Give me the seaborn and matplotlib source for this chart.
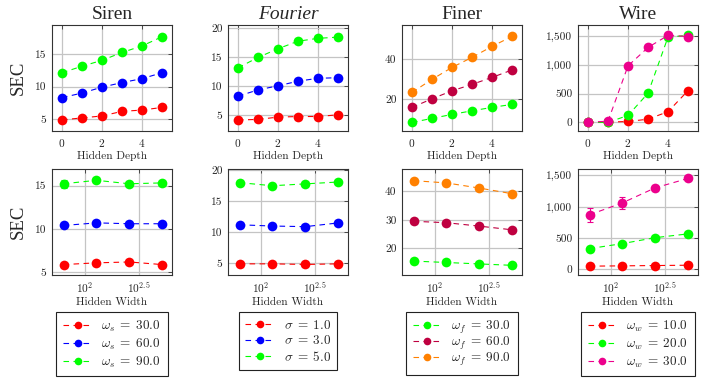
# ====================
# IMPORTING LIBRARIES
# ====================

import pandas as pd
import numpy as np

import matplotlib
matplotlib.use("Agg")
import matplotlib.pyplot as plt
from matplotlib.lines import Line2D
from matplotlib.ticker import FuncFormatter, FixedLocator, NullLocator
import seaborn as sns

# ====================
#  DATA
# ====================

depths = [0, 1, 2, 3, 4, 5]
widths = [64, 128, 256, 512]

titles = ['Siren', 'Fourier', 'Finer', 'Wire']

siren_labels = [r'$\omega_s\;=\;30.0$', r'$\omega_s\;=\;60.0$', r'$\omega_s\;=\;90.0$']
fourier_labels = [r'$\sigma\;=\;1.0$', r'$\sigma\;=\;3.0$', r'$\sigma\;=\;5.0$']
finer_labels = [r'$\omega_f\;=\;30.0$', r'$\omega_f\;=\;60.0$', r'$\omega_f\;=\;90.0$']
wire_labels = [r'$\omega_w\;=\;10.0$', r'$\omega_w\;=\;20.0$', r'$\omega_w\;=\;30.0$']

siren_colors = ['#ff0000', '#0000ff', '#00ff00']
fourier_colors = ['#ff0000', '#0000ff', '#00ff00']
finer_colors = ['#00ff00', '#bf0040', '#ff8000']
wire_colors = ['#ff0000', '#00ff00', '#ec008c']

# hidden depth sweep
siren_depth = [[4.9, 5.2, 5.5, 6.2, 6.4, 6.8],
               [8.3, 9.0, 9.9, 10.6, 11.2, 12.1],
               [12.1, 13.1, 14.0, 15.2, 16.2, 17.6]]
siren_depth_err = [[0.1] * 6, [0.1] * 6, [0.1, 0.1, 0.15, 0.15, 0.15, 0.15]]

fourier_depth = [[4.2, 4.3, 4.7, 4.8, 4.8, 5.1],
                 [8.3, 9.4, 10.1, 10.9, 11.4, 11.5],
                 [13.2, 15.0, 16.5, 17.8, 18.3, 18.5]]
fourier_depth_err = [[0.1] * 6, [0.1] * 6, [0.1, 0.1, 0.15, 0.3, 0.4, 0.2]]

finer_depth = [[8.5, 10.5, 12.5, 14.3, 16.0, 17.5],
               [16.0, 20.3, 24.3, 27.5, 31.0, 34.7],
               [23.5, 30.0, 36.0, 41.0, 46.5, 51.5]]
finer_depth_err = [[0.3] * 6, [0.3] * 6, [0.3] * 6]

wire_depth = [[0, 5, 15, 55, 185, 550],
              [0, 0, 120, 505, 1480, 1510],
              [0, 20, 980, 1300, 1510, 1490]]
wire_depth_err = [[5, 5, 10, 10, 15, 20], [5, 5, 15, 20, 20, 20], [5, 10, 20, 40, 30, 30]]

# hidden width sweep
siren_width = [[5.9, 6.1, 6.2, 5.9],
               [10.4, 10.7, 10.6, 10.6],
               [15.2, 15.6, 15.2, 15.3]]
siren_width_err = [[0.1, 0.15, 0.15, 0.1], [0.2, 0.15, 0.1, 0.1], [0.45, 0.15, 0.1, 0.1]]

fourier_width = [[4.9, 4.9, 4.8, 4.9],
                 [11.2, 11.0, 10.9, 11.5],
                 [18.0, 17.5, 17.8, 18.1]]
fourier_width_err = [[0.1, 0.1, 0.1, 0.1], [0.2, 0.15, 0.1, 0.1], [0.35, 0.4, 0.3, 0.2]]

finer_width = [[15.5, 15.0, 14.5, 14.0],
               [29.5, 29.0, 27.8, 26.5],
               [43.8, 43.0, 41.2, 39.2]]
finer_width_err = [[0.3] * 4, [0.3] * 4, [0.4] * 4]

wire_width = [[50, 55, 60, 65],
              [330, 410, 505, 565],
              [870, 1060, 1300, 1450]]
wire_width_err = [[10, 10, 10, 10], [20, 20, 15, 15], [110, 100, 50, 25]]

# axis ranges / ticks per panel
depth_ylims = [(3.2, 19.4), (2.3, 20.6), (4.2, 57.2), (-150, 1690)]
depth_yticks = [[5, 10, 15], [5, 10, 15, 20], [20, 40], [0, 500, 1000, 1500]]
width_ylims = [(4.7, 16.9), (3.1, 20.2), (10.6, 47.9), (-91, 1600)]
width_yticks = [[5, 10, 15], [5, 10, 15, 20], [20, 30, 40], [0, 500, 1000, 1500]]

# ====================
#  STYLE
# ====================

sns.set_style('white')
plt.rcParams['font.family'] = ['cmr10', 'DejaVu Serif']
plt.rcParams['mathtext.fontset'] = 'cm'
plt.rcParams['axes.formatter.use_mathtext'] = True

DASH = (0, (5, 4))
GRID_C = '#c4c4c4'
SPINE_C = '#333333'


def to_frame(xs, ys, labels):
    rows = []
    for lab, yv in zip(labels, ys):
        for x, y in zip(xs, yv):
            rows.append({'x': x, 'y': y, 'label': lab})
    return pd.DataFrame(rows)


def draw_panel(ax, xs, ys, errs, labels, colors):
    df = to_frame(xs, ys, labels)
    sns.lineplot(data=df, x='x', y='y', hue='label', hue_order=labels,
                 palette=colors, marker='o', markersize=7, markeredgewidth=0,
                 linestyle=DASH, linewidth=0.8, errorbar=None, legend=False,
                 ax=ax, zorder=3)
    for yv, ev, c in zip(ys, errs, colors):
        ax.errorbar(xs, yv, yerr=ev, fmt='none', ecolor=c, elinewidth=0.8,
                    capsize=2, capthick=0.8, zorder=2)


def style_axes(ax):
    ax.set_axisbelow(True)
    ax.grid(True, color=GRID_C, linewidth=0.9)
    for s in ax.spines.values():
        s.set_color(SPINE_C)
        s.set_linewidth(0.8)
    ax.tick_params(direction='in', top=True, right=True, length=3, width=0.6,
                   color=SPINE_C, labelsize=8.2, pad=4)
    ax.tick_params(which='minor', length=0)
    ax.set_ylabel('')


# ====================
#  MAIN
# ====================

def main():
    fig = plt.figure(figsize=(7.05, 3.81), dpi=100)

    lefts = [52, 228, 402, 578]
    W, H = 705.0, 381.0
    aw = 120 / W

    depth_sets = [(siren_depth, siren_depth_err), (fourier_depth, fourier_depth_err),
                  (finer_depth, finer_depth_err), (wire_depth, wire_depth_err)]
    width_sets = [(siren_width, siren_width_err), (fourier_width, fourier_width_err),
                  (finer_width, finer_width_err), (wire_width, wire_width_err)]
    label_sets = [siren_labels, fourier_labels, finer_labels, wire_labels]
    color_sets = [siren_colors, fourier_colors, finer_colors, wire_colors]
    # the f subscript has a descender, so that legend needs tighter rows
    row_spacing = [0.2, 0.2, -0.08, 0.2]

    comma = FuncFormatter(lambda v, p: f'{v:,.0f}')

    for i in range(4):
        # top row: hidden depth
        ax = fig.add_axes([lefts[i] / W, (H - 131) / H, aw, 106 / H])
        draw_panel(ax, depths, depth_sets[i][0], depth_sets[i][1], label_sets[i], color_sets[i])
        ax.set_xlim(-0.5, 5.5)
        ax.set_ylim(*depth_ylims[i])
        ax.set_xticks([0, 2, 4])
        ax.set_yticks(depth_yticks[i])
        ax.yaxis.set_major_formatter(comma)
        style_axes(ax)
        ax.set_xlabel('Hidden Depth', fontsize=8.2, labelpad=2)
        ax.set_title(titles[i], fontsize=14, family='Liberation Serif',
                     style='italic' if titles[i] == 'Fourier' else 'normal', pad=4)
        if i == 0:
            ax.set_ylabel('SEC', fontsize=13.5, family='Liberation Serif', labelpad=6)

        # bottom row: hidden width
        ax2 = fig.add_axes([lefts[i] / W, (H - 275) / H, aw, 106 / H])
        draw_panel(ax2, widths, width_sets[i][0], width_sets[i][1], label_sets[i], color_sets[i])
        ax2.set_xscale('log')
        ax2.set_xlim(10 ** 1.70, 10 ** 2.80)
        ax2.set_ylim(*width_ylims[i])
        ax2.xaxis.set_major_locator(FixedLocator([100, 10 ** 2.5]))
        ax2.xaxis.set_minor_locator(NullLocator())
        ax2.set_xticklabels([r'$10^{2}$', r'$10^{2.5}$'])
        ax2.set_yticks(width_yticks[i])
        ax2.yaxis.set_major_formatter(comma)
        style_axes(ax2)
        ax2.set_xlabel('Hidden Width', fontsize=8.2, labelpad=1)
        if i == 0:
            ax2.set_ylabel('SEC', fontsize=13.5, family='Liberation Serif', labelpad=6)

        # legend box under each column
        handles = [Line2D([], [], color=c, linestyle=DASH, linewidth=0.8, marker='o',
                          markersize=5.5, markeredgewidth=0) for c in color_sets[i]]
        leg = ax2.legend(handles, label_sets[i], loc='upper center',
                         bbox_to_anchor=(0.5, -(312 - 275) / 106), borderaxespad=0,
                         fontsize=9.5, frameon=True, fancybox=False, framealpha=1,
                         edgecolor='#222222', handlelength=2.2, handletextpad=0.7,
                         labelspacing=row_spacing[i], borderpad=0.5)
        leg.get_frame().set_linewidth(0.8)

    fig.savefig('out.png', dpi=100)
    plt.close(fig)


if __name__ == "__main__":
    main()
